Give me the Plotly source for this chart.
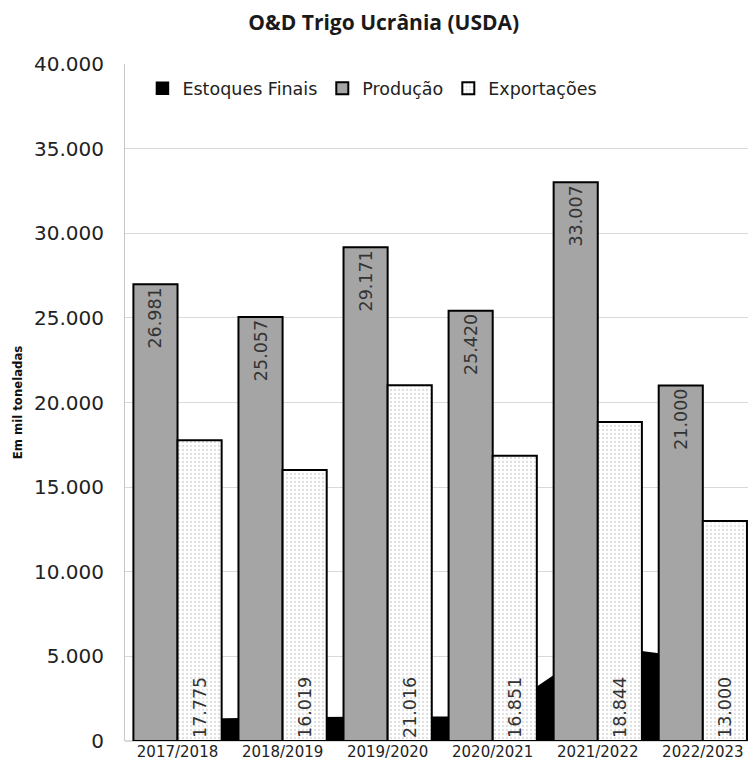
import plotly.graph_objects as go

# Ukraine wheat supply & demand (USDA), thousand tonnes
safras = ["2017/2018", "2018/2019", "2019/2020", "2020/2021", "2021/2022", "2022/2023"]
estoques_finais = [1300, 1400, 1450, 1450, 5650, 4850]
producao = [26981, 25057, 29171, 25420, 33007, 21000]
exportacoes = [17775, 16019, 21016, 16851, 18844, 13000]

x_range = [-0.5, 5.43]
label_font = dict(family="DejaVu Sans", size=17.5, color="#333333")

fig = go.Figure()

# Ending stocks as a filled area sitting behind the bars
fig.add_trace(go.Scatter(
    x=safras, y=estoques_finais, mode="lines",
    line=dict(width=0, color="black"), fill="tozeroy", fillcolor="black",
    showlegend=False, hoverinfo="skip", xaxis="x", yaxis="y",
))
# legend entry for the stocks series
fig.add_trace(go.Bar(
    x=[safras[0]], y=[None], name="Estoques Finais",
    marker=dict(color="black", line=dict(color="black", width=1.5)),
    xaxis="x", yaxis="y",
))

fig.add_trace(go.Bar(
    x=safras, y=producao, name="Produção",
    marker=dict(color="#a5a5a5", line=dict(color="black", width=2)),
    texttemplate="%{y:,}", textposition="inside", insidetextanchor="end",
    textangle=-90, textfont=label_font,
    xaxis="x2", yaxis="y2",
))
fig.add_trace(go.Bar(
    x=safras, y=exportacoes, name="Exportações",
    marker=dict(color="white", line=dict(color="black", width=2),
                pattern=dict(shape=".", fgcolor="#bdbdbd", bgcolor="white",
                             size=4, solidity=0.25)),
    texttemplate="%{y:,}", textposition="inside", insidetextanchor="start",
    textangle=-90, textfont=label_font,
    xaxis="x2", yaxis="y2",
))

fig.update_layout(
    width=748, height=776,
    margin=dict(l=125, r=0, t=64, b=35, autoexpand=False),
    paper_bgcolor="white", plot_bgcolor="white",
    separators=",.",
    barmode="group", bargap=0.16, bargroupgap=0,
    uniformtext=dict(minsize=8, mode="show"),
    title=dict(text="<b>O&D Trigo Ucrânia (USDA)</b>", x=0.513, xref="container",
               xanchor="center", y=0.971, yref="container", yanchor="middle",
               font=dict(family="Open Sans", size=21, color="#1a1a1a")),
    legend=dict(orientation="h", x=0.028, xanchor="left", y=0.964, yanchor="middle",
                bgcolor="rgba(0,0,0,0)", font=dict(family="DejaVu Sans", size=17.5, color="#222"),
                itemwidth=30, traceorder="normal"),
    xaxis=dict(type="category", range=x_range, showgrid=False, zeroline=False,
               showline=False, ticks="", automargin=False,
               tickfont=dict(family="DejaVu Sans", size=15, color="#222")),
    xaxis2=dict(type="category", range=x_range, overlaying="x", matches="x",
                showticklabels=False, showgrid=False, zeroline=False, showline=False),
    yaxis=dict(range=[0, 40000], dtick=5000, tickformat=",", showgrid=True,
               gridcolor="#d9d9d9", gridwidth=1, zeroline=True, zerolinecolor="#d9d9d9",
               showline=True, linecolor="#c8c8c8", linewidth=1, ticks="",
               ticklabelstandoff=16, automargin=False,
               tickfont=dict(family="DejaVu Sans", size=20, color="#222"),
               title=dict(text="<b>Em mil toneladas</b>", standoff=8,
                          font=dict(family="DejaVu Sans Condensed", size=13, color="#111"))),
    yaxis2=dict(range=[0, 40000], overlaying="y", matches="y", showticklabels=False,
                showgrid=False, zeroline=False, showline=False),
)

fig.write_html("out.html")
